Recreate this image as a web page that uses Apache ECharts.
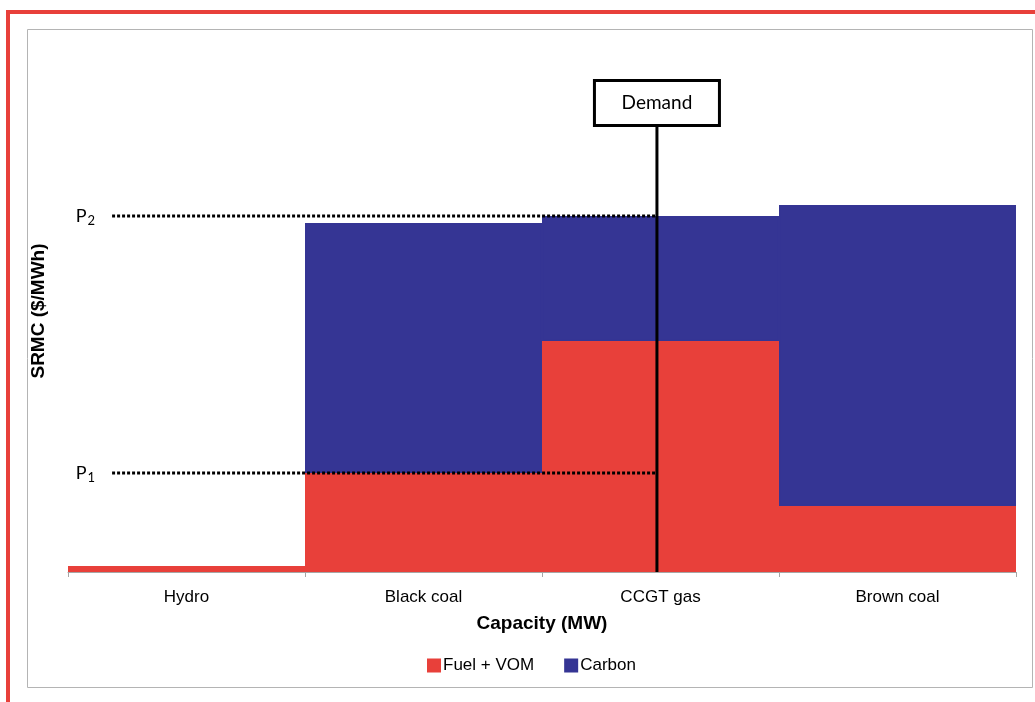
<!DOCTYPE html>
<html>
<head>
<meta charset="utf-8">
<script src="https://cdn.jsdelivr.net/npm/echarts@6/dist/echarts.min.js"></script>
<style>
html,body{margin:0;padding:0;background:#fff;}
#chart{width:1035px;height:702px;}
</style>
</head>
<body>
<div id="chart"></div>
<script>
// Data (arbitrary SRMC units)
var categories = ['Hydro', 'Black coal', 'CCGT gas', 'Brown coal'];
var fuelVom = [6, 99, 231, 66];
var carbon = [0, 250, 125, 301];
var priceLevels = [99, 356];          // P1, P2
var priceLabels = ['1', '2'];
var priceLineStart = 0.186;           // in category units
var demandPosition = 2.485;           // in category units
var demandTop = 449;
var demandBoxY = 469;
var seriesNames = ['Fuel + VOM', 'Carbon'];

var chart = echarts.init(document.getElementById('chart'));
var calibri = 'Lato, "Open Sans", sans-serif';
var arial = '"Liberation Sans", Arial, sans-serif';

function barData(values) {
  return values.map(function (v) {
    return v === 0 ? {value: v, itemStyle: {borderWidth: 0}} : v;
  });
}

var priceSeries = priceLevels.map(function (p) {
  return {
    type: 'line',
    xAxisIndex: 1,
    symbol: 'none',
    silent: true,
    z: 5,
    lineStyle: {color: '#000', width: 3, type: [3, 2]},
    data: [[priceLineStart, p], [demandPosition, p]]
  };
});

var priceLabelSeries = {
  type: 'scatter',
  xAxisIndex: 1,
  silent: true,
  symbolSize: 0,
  z: 5,
  itemStyle: {opacity: 1},
  label: {
    show: true, position: 'left', distance: 17,
    formatter: function (params) { return 'P{s|' + priceLabels[params.dataIndex] + '}'; },
    color: '#000', fontFamily: calibri, fontSize: 18,
    rich: {s: {fontSize: 13, padding: [10, 0, 0, 1], fontFamily: calibri, color: '#000'}}
  },
  data: priceLevels.map(function (p) { return [priceLineStart, p]; })
};

var option = {
  animation: false,
  backgroundColor: '#fff',
  graphic: [
    {type: 'rect', shape: {x: 6, y: 10, width: 1030, height: 4}, style: {fill: '#E8403A'}, silent: true},
    {type: 'rect', shape: {x: 6, y: 10, width: 4, height: 700}, style: {fill: '#E8403A'}, silent: true},
    {type: 'rect', shape: {x: 27.5, y: 29.5, width: 1005, height: 658}, style: {fill: 'none', stroke: '#b4b4b4', lineWidth: 1}, silent: true}
  ],
  grid: {left: 68, right: 19, top: 50, bottom: 130},
  legend: {
    bottom: 23,
    left: 422,
    itemWidth: 12,
    itemHeight: 12,
    itemGap: 30,
    icon: 'rect',
    data: seriesNames,
    textStyle: {color: '#000', fontSize: 17, fontFamily: arial, padding: [0, 0, 0, -2]}
  },
  xAxis: [
    {
      type: 'category',
      data: categories,
      boundaryGap: true,
      axisLine: {lineStyle: {color: '#a6a6a6', width: 1}},
      axisTick: {show: true, length: 5, alignWithLabel: false, lineStyle: {color: '#a6a6a6'}},
      axisLabel: {color: '#000', fontSize: 17, margin: 17, fontFamily: arial},
      name: 'Capacity (MW)',
      nameLocation: 'middle',
      nameGap: 42,
      nameTextStyle: {color: '#000', fontSize: 19, fontWeight: 'bold', fontFamily: arial}
    },
    {type: 'value', min: 0, max: 4, show: false}
  ],
  yAxis: {
    type: 'value',
    min: 0,
    max: 522,
    axisLine: {show: false},
    axisTick: {show: false},
    axisLabel: {show: false},
    splitLine: {show: false},
    name: 'SRMC ($/MWh)',
    nameLocation: 'middle',
    nameGap: 20,
    nameRotate: 90,
    nameTextStyle: {color: '#000', fontSize: 19, fontWeight: 'bold', fontFamily: arial}
  },
  series: [
    {
      name: seriesNames[0], type: 'bar', stack: 'srmc', barCategoryGap: '0%',
      itemStyle: {color: '#E8403A', borderColor: '#E8403A', borderWidth: 1.5}, data: barData(fuelVom), z: 2
    },
    {
      name: seriesNames[1], type: 'bar', stack: 'srmc', barCategoryGap: '0%',
      itemStyle: {color: '#353594', borderColor: '#353594', borderWidth: 1.5}, data: barData(carbon), z: 2
    }
  ].concat(priceSeries).concat([priceLabelSeries]).concat([
    {
      type: 'line', xAxisIndex: 1, symbol: 'none', silent: true, z: 6,
      lineStyle: {color: '#000', width: 3},
      data: [[demandPosition, 0], [demandPosition, demandTop]]
    },
    {
      type: 'scatter', xAxisIndex: 1, silent: true, z: 7,
      symbolSize: 0,
      itemStyle: {opacity: 1},
      label: {show: true, position: 'inside', formatter: 'Demand', color: '#000', fontSize: 19,
              fontFamily: calibri, backgroundColor: '#fff', borderColor: '#000', borderWidth: 3,
              textBorderWidth: 0, width: 122, height: 42, align: 'center', verticalAlign: 'middle', lineHeight: 42},
      data: [[demandPosition, demandBoxY]]
    }
  ])
};
chart.setOption(option);
</script>
</body>
</html>
